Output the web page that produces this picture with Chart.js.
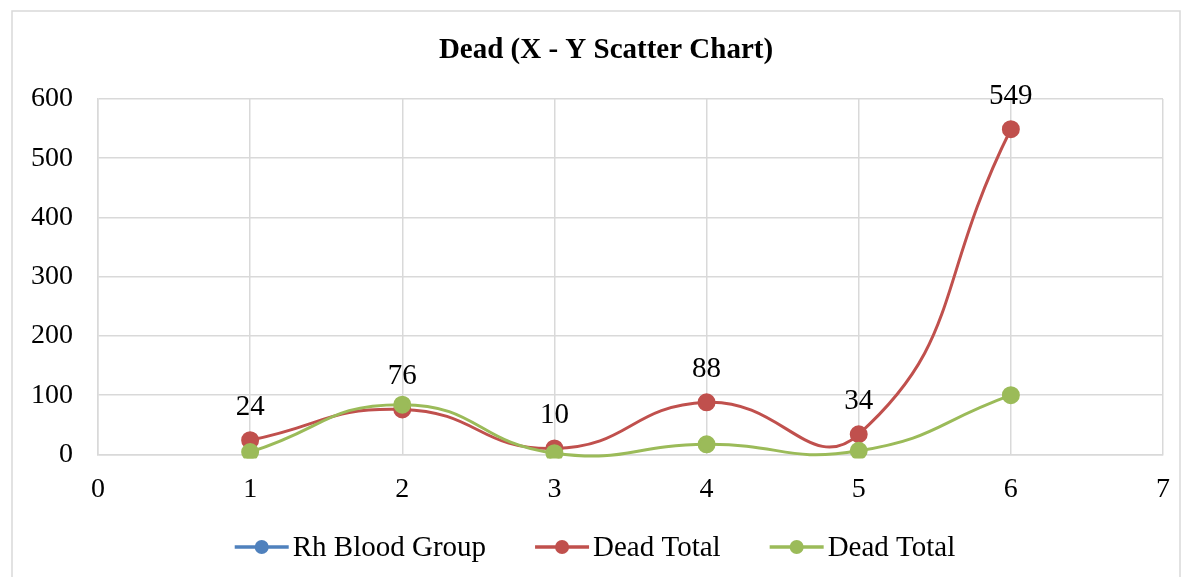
<!DOCTYPE html>
<html lang="en">
<head>
    <meta charset="UTF-8">
    <title>Dead (X - Y Scatter Chart)</title>
    <script src="https://cdn.jsdelivr.net/npm/chart.js"></script>
    <style>
        body { margin: 0; background: #fff; }
    </style>
</head>
<body>
    <canvas id="deadChart" width="1193" height="577"></canvas>

    <script>
        // Data
        const xValues = [1, 2, 3, 4, 5, 6];
        const rhX = [1, 3, 5];
        const rhValues = [0, 0, 0];
        const deadTotalRed = [24, 76, 10, 88, 34, 549];
        const deadTotalGreen = [4, 84, 2, 17, 6, 100];
        const seriesNames = ['Rh Blood Group', 'Dead Total', 'Dead Total'];
        const seriesColors = ['#4f81bd', '#c0504d', '#9bbb59'];
        const chartTitle = 'Dead (X - Y Scatter Chart)';

        const toPoints = (xs, ys) => xs.map((x, i) => ({ x: x, y: ys[i] }));

        // outer frame like the Excel chart area, plus the title
        const framePlugin = {
            id: 'frame',
            beforeDraw(chart) {
                const g = chart.ctx;
                g.save();
                g.strokeStyle = '#d9d9d9';
                g.lineWidth = 1.5;
                g.strokeRect(12, 11, 1168, 580);
                g.font = 'bold 29px "Liberation Serif"';
                g.fillStyle = '#000';
                g.textAlign = 'center';
                g.textBaseline = 'middle';
                g.fillText(chartTitle, 606, 51);
                g.restore();
            }
        };

        // value labels above the red series
        const valueLabels = {
            id: 'valueLabels',
            afterDatasetsDraw(chart) {
                const g = chart.ctx;
                const meta = chart.getDatasetMeta(1);
                g.save();
                g.font = '29px "Liberation Serif"';
                g.fillStyle = '#000';
                g.textAlign = 'center';
                g.textBaseline = 'middle';
                meta.data.forEach((pt, i) => {
                    g.fillText(String(deadTotalRed[i]), pt.x, pt.y - 33);
                });
                g.restore();
            }
        };

        // Excel style legend: line with a dot, then the name
        const lineLegend = {
            id: 'lineLegend',
            afterDraw(chart) {
                const g = chart.ctx;
                const markW = 54, gap = 4, itemGap = 49, y = 547;
                g.save();
                g.font = '29px "Liberation Serif"';
                g.textBaseline = 'middle';
                g.textAlign = 'left';
                const widths = seriesNames.map(s => g.measureText(s).width);
                let total = 0;
                widths.forEach((w, i) => { total += markW + gap + w + (i < widths.length - 1 ? itemGap : 0); });
                let x = 595 - total / 2;
                seriesNames.forEach((name, i) => {
                    g.strokeStyle = seriesColors[i];
                    g.lineWidth = 3.5;
                    g.beginPath();
                    g.moveTo(x, y);
                    g.lineTo(x + markW, y);
                    g.stroke();
                    g.fillStyle = seriesColors[i];
                    g.beginPath();
                    g.arc(x + markW / 2, y, 7, 0, Math.PI * 2);
                    g.fill();
                    g.fillStyle = '#000';
                    g.fillText(name, x + markW + gap, y + 1);
                    x += markW + gap + widths[i] + itemGap;
                });
                g.restore();
            }
        };

        const ctx = document.getElementById('deadChart').getContext('2d');

        const deadChart = new Chart(ctx, {
            type: 'scatter',
            data: {
                datasets: [
                    {
                        label: seriesNames[0],
                        data: toPoints(rhX, rhValues),
                        borderColor: seriesColors[0],
                        backgroundColor: seriesColors[0],
                        showLine: false,
                        pointRadius: 7.5,
                        pointHoverRadius: 7.5,
                        order: 3
                    },
                    {
                        label: seriesNames[1],
                        data: toPoints(xValues, deadTotalRed),
                        borderColor: seriesColors[1],
                        backgroundColor: seriesColors[1],
                        borderWidth: 3,
                        showLine: true,
                        tension: 0.5,
                        pointRadius: 7.5,
                        pointHoverRadius: 7.5,
                        order: 2
                    },
                    {
                        label: seriesNames[2],
                        data: toPoints(xValues, deadTotalGreen),
                        borderColor: seriesColors[2],
                        backgroundColor: seriesColors[2],
                        borderWidth: 3,
                        showLine: true,
                        tension: 0.5,
                        pointRadius: 7.5,
                        pointHoverRadius: 7.5,
                        clip: 4,
                        order: 1
                    }
                ]
            },
            options: {
                responsive: false,
                animation: false,
                elements: { line: { capBezierPoints: false } },
                layout: {
                    padding: { left: 6, right: 30, top: 99, bottom: 53 }
                },
                plugins: {
                    title: { display: false },
                    legend: { display: false },
                    tooltip: { enabled: false }
                },
                scales: {
                    x: {
                        type: 'linear',
                        min: 0,
                        max: 7,
                        ticks: {
                            stepSize: 1,
                            color: '#000',
                            font: { family: 'Liberation Serif', size: 28 },
                            padding: 18
                        },
                        grid: { color: '#d9d9d9', lineWidth: 1.5, drawTicks: false },
                        border: { color: '#d9d9d9', width: 1.5 }
                    },
                    y: {
                        min: 0,
                        max: 600,
                        ticks: {
                            stepSize: 100,
                            color: '#000',
                            font: { family: 'Liberation Serif', size: 28 },
                            padding: 25
                        },
                        grid: { color: '#d9d9d9', lineWidth: 1.5, drawTicks: false },
                        border: { color: '#d9d9d9', width: 1.5 }
                    }
                }
            },
            plugins: [framePlugin, valueLabels, lineLegend]
        });
    </script>
</body>
</html>
